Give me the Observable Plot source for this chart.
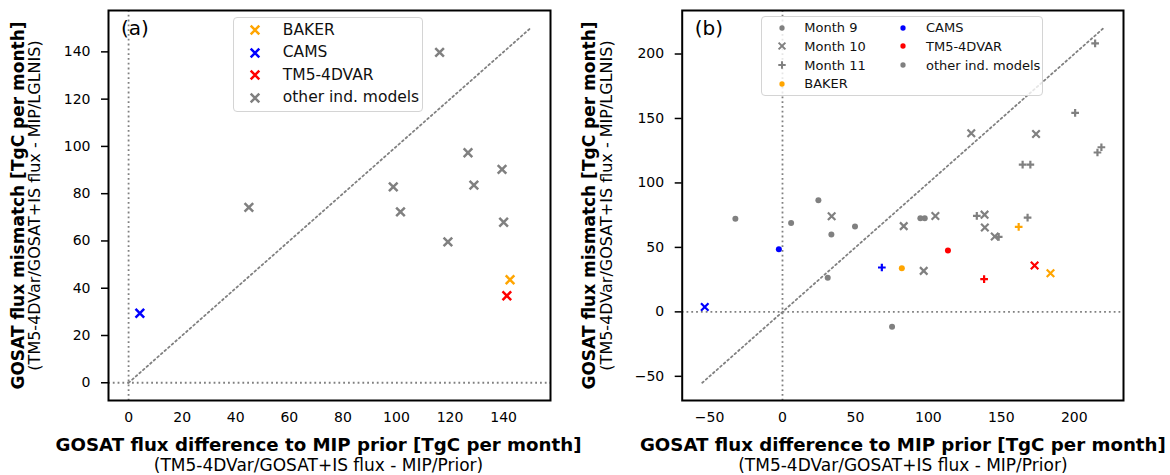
<!DOCTYPE html>
<html><head><meta charset="utf-8">
<script src="https://cdn.jsdelivr.net/npm/d3@7"></script>
<script src="https://cdn.jsdelivr.net/npm/@observablehq/plot@0.6"></script>
<style>
body{margin:0;background:#fff;font-family:"DejaVu Sans",sans-serif;}
#wrap{position:relative;width:1170px;height:475px;display:flex;}
.panel{position:relative;width:585px;height:475px;flex:none;}
.legend{position:absolute;background:rgba(255,255,255,0.8);border:1.5px solid #d4d4d4;border-radius:4px;box-sizing:border-box;}
.legend span{position:absolute;white-space:nowrap;line-height:1;color:#111;font-family:"DejaVu Sans";}
.legend svg{position:absolute;overflow:visible;}
</style></head>
<body>
<div id="wrap"><div class="panel" id="pa"></div><div class="panel" id="pb"></div></div>
<script>
// ---------- Scales / ticks ----------
const domainA = [-7.5, 157.5];
const ticksA = [0, 20, 40, 60, 80, 100, 120, 140];
const diagA = [0, 150];
const domainB = [-68.75, 233.75];
const ticksB = [-50, 0, 50, 100, 150, 200];
const diagB = [-55, 220];

// ---------- Panel (a): 3-month mean ----------
const aBakerX = [142.4], aBakerY = [43.6];
const aCamsX = [4.2], aCamsY = [29.4];
const aTm5X = [141.2], aTm5Y = [36.8];
const aOtherX = [116.1, 126.7, 139.4, 98.8, 128.9, 44.9, 101.5, 140.0, 119.2];
const aOtherY = [139.8, 97.3, 90.3, 82.9, 83.6, 74.2, 72.3, 67.9, 59.6];

// ---------- Panel (b): per month ----------
const months = ["Month 9", "Month 10", "Month 11"];
const b9OtherX = [-32.3, 5.9, 24.6, 33.5, 49.7, 31.0, 94.5, 97.5, 75.1];
const b9OtherY = [72.3, 69.0, 86.5, 60.0, 66.2, 26.4, 72.6, 72.6, -11.5];
const b10OtherX = [129.4, 173.8, 33.7, 83.1, 104.8, 138.5, 138.7, 145.5, 96.8];
const b10OtherY = [138.5, 138.0, 74.2, 66.5, 74.4, 75.4, 65.4, 58.5, 31.8];
const b11OtherX = [214.3, 200.6, 215.9, 218.6, 164.6, 169.9, 133.2, 148.2, 168.0];
const b11OtherY = [208.2, 154.4, 123.6, 127.7, 114.2, 114.2, 74.4, 58.2, 73.1];
// model values for months 9, 10, 11
const bBakerX = [81.8, 183.7, 161.9], bBakerY = [33.9, 30.0, 65.9];
const bCamsX = [-2.5, -53.3, 68.1], bCamsY = [48.5, 3.8, 34.4];
const bTm5X = [113.4, 172.8, 138.2], bTm5Y = [47.5, 35.9, 25.4];

const colors = {"BAKER": "orange", "CAMS": "blue", "TM5-4DVAR": "red", "other ind. models": "gray"};
const legendA = ["BAKER", "CAMS", "TM5-4DVAR", "other ind. models"];

const xLabel = "GOSAT flux difference to MIP prior [TgC per month]";
const xSub = "(TM5-4DVar/GOSAT+IS flux - MIP/Prior)";
const yLabel = "GOSAT flux mismatch [TgC per month]";
const ySub = "(TM5-4DVar/GOSAT+IS flux - MIP/LGLNIS)";

// ---------- build tables ----------
const zip = (xs, ys, extra) => xs.map((x, i) => ({x, y: ys[i], ...extra}));
const rowsA = [
  ...zip(aOtherX, aOtherY, {c: colors["other ind. models"]}),
  ...zip(aBakerX, aBakerY, {c: colors.BAKER}),
  ...zip(aCamsX, aCamsY, {c: colors.CAMS}),
  ...zip(aTm5X, aTm5Y, {c: colors["TM5-4DVAR"]})
];
const otherB = [[b9OtherX, b9OtherY], [b10OtherX, b10OtherY], [b11OtherX, b11OtherY]];
const rowsB = [];
months.forEach((m, k) => {
  rowsB.push(...zip(otherB[k][0], otherB[k][1], {m, c: colors["other ind. models"]}));
});
months.forEach((m, k) => {
  rowsB.push({x: bBakerX[k], y: bBakerY[k], m, c: colors.BAKER});
  rowsB.push({x: bCamsX[k], y: bCamsY[k], m, c: colors.CAMS});
  rowsB.push({x: bTm5X[k], y: bTm5Y[k], m, c: colors["TM5-4DVAR"]});
});

const fmt = d => d < 0 ? "\u2212" + Math.abs(d) : String(d);
const dotted = {stroke: "gray", strokeWidth: 1.8, strokeDasharray: "1.8,3"};

function labels(tag, xdx, ydx) {
  return [
    Plot.text([tag], {text: d => d, frameAnchor: "top-left", dx: 12.5, dy: 10.5, lineAnchor: "top", textAnchor: "start", fontSize: 20, fill: "black"}),
    Plot.text([xLabel], {text: d => d, frameAnchor: "bottom", dx: xdx, dy: 50, lineAnchor: "bottom", textAnchor: "middle", fontSize: 18.2, fontWeight: "bold", fill: "black"}),
    Plot.text([xSub], {text: d => d, frameAnchor: "bottom", dx: xdx, dy: 70, lineAnchor: "bottom", textAnchor: "middle", fontSize: 17, fill: "black"}),
    Plot.text([yLabel], {text: d => d, frameAnchor: "left", dx: ydx, rotate: -90, lineAnchor: "bottom", textAnchor: "middle", fontSize: 17, fontWeight: "bold", fill: "black"}),
    Plot.text([ySub], {text: d => d, frameAnchor: "left", dx: ydx + 16.3, rotate: -90, lineAnchor: "bottom", textAnchor: "middle", fontSize: 16, fill: "black"})
  ];
}

const common = {
  width: 585, height: 475, marginTop: 10, marginBottom: 75,
  style: {fontFamily: "DejaVu Sans", color: "black", background: "transparent", overflow: "visible"},
  color: {type: "identity"}
};

const plotA = Plot.plot({
  ...common, marginLeft: 108, marginRight: 35,
  x: {domain: domainA, label: null},
  y: {domain: domainA, label: null},
  marks: [
    Plot.ruleX([0], dotted),
    Plot.ruleY([0], dotted),
    Plot.line(diagA.map(v => [v, v]), {...dotted}),
    Plot.dot(rowsA, {x: "x", y: "y", symbol: "times", stroke: "c", fill: "none", r: 4, strokeWidth: 2.5}),
    Plot.axisX({ticks: ticksA, tickSize: 0, tickPadding: 12, fontSize: 14, label: null, tickFormat: fmt}),
    Plot.axisY({ticks: ticksA, tickSize: 7, tickPadding: 11, fontSize: 14, label: null, strokeWidth: 1.5, tickFormat: fmt}),
    Plot.frame({stroke: "black", strokeWidth: 2}),
    ...labels("(a)", -11, -85)
  ]
});
document.getElementById("pa").append(plotA);

const plotB = Plot.plot({
  ...common, marginLeft: 96.7, marginRight: 47,
  x: {domain: domainB, label: null},
  y: {domain: domainB, label: null},
  marks: [
    Plot.ruleX([0], dotted),
    Plot.ruleY([0], dotted),
    Plot.line(diagB.map(v => [v, v]), {...dotted}),
    Plot.dot(rowsB.filter(d => d.m === "Month 9"), {x: "x", y: "y", symbol: "circle", fill: "c", r: 3}),
    Plot.dot(rowsB.filter(d => d.m === "Month 10"), {x: "x", y: "y", symbol: "times", stroke: "c", fill: "none", r: 3.5, strokeWidth: 2.2}),
    Plot.dot(rowsB.filter(d => d.m === "Month 11"), {x: "x", y: "y", symbol: "plus", stroke: "c", fill: "none", r: 2.6, strokeWidth: 2.2}),
    Plot.axisX({ticks: ticksB, tickSize: 0, tickPadding: 12, fontSize: 14, label: null, tickFormat: fmt}),
    Plot.axisY({ticks: ticksB, tickSize: 7, tickPadding: 11, fontSize: 14, label: null, strokeWidth: 1.5, tickFormat: fmt}),
    Plot.frame({stroke: "black", strokeWidth: 2}),
    ...labels("(b)", 0, -87)
  ]
});
document.getElementById("pb").append(plotB);

// ---------- legends ----------
const symbols = {circle: d3.symbolCircle, times: d3.symbolTimes, plus: d3.symbolPlus};
function legend(parent, box, items, fs) {
  const div = d3.select(parent).append("div").attr("class", "legend")
    .style("left", box[0] + "px").style("top", box[1] + "px")
    .style("width", box[2] + "px").style("height", box[3] + "px");
  items.forEach(it => {
    const svg = div.append("svg").attr("width", 16).attr("height", 16)
      .style("left", (it.mx - 8) + "px").style("top", (it.my - 8) + "px");
    const p = svg.append("path").attr("transform", "translate(8,8)")
      .attr("d", d3.symbol(symbols[it.sym], it.size)());
    if (it.sym === "circle") p.attr("fill", it.color);
    else p.attr("fill", "none").attr("stroke", it.color).attr("stroke-width", it.sw);
    div.append("span").text(it.label).style("font-size", fs + "px")
      .style("left", it.tx + "px").style("top", (it.my - 0.48 * fs) + "px");
  });
}
legend("#pa", [233.3, 17.3, 190, 94.4],
  legendA.map((l, i) => ({label: l, color: colors[l], sym: "times", size: 50, sw: 2.5, mx: 21.2, tx: 48.5, my: 12.2 + i * 22.4})), 15.5);

const legendB = [
  {label: months[0], color: "gray", sym: "circle", size: 22},
  {label: months[1], color: "gray", sym: "times", size: 32},
  {label: months[2], color: "gray", sym: "plus", size: 20},
  {label: "BAKER", color: colors.BAKER, sym: "circle", size: 22},
  {label: "CAMS", color: colors.CAMS, sym: "circle", size: 22},
  {label: "TM5-4DVAR", color: colors["TM5-4DVAR"], sym: "circle", size: 22},
  {label: "other ind. models", color: colors["other ind. models"], sym: "circle", size: 22}
];
legend("#pb", [175.7, 16, 282, 79.7],
  legendB.map((it, i) => {
    const col = i < 4 ? 0 : 1, row = i < 4 ? i : i - 4;
    return {...it, sw: 2, mx: col ? 141.6 : 20.3, tx: col ? 164.3 : 42.6, my: 10.5 + row * 18.7};
  }), 13);
</script>
</body></html>
